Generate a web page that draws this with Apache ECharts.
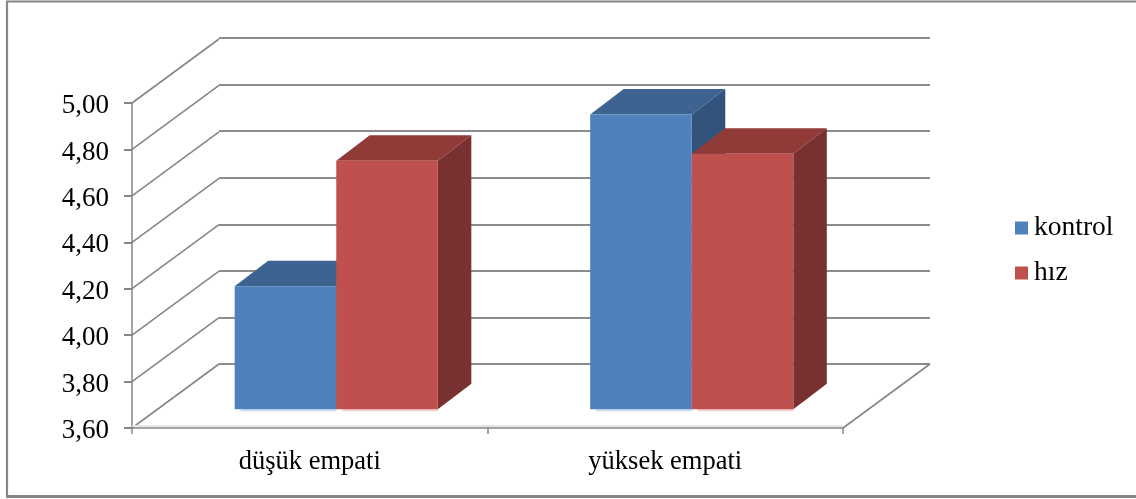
<!DOCTYPE html>
<html>
<head>
<meta charset="utf-8">
<style>
	html, body { margin: 0; padding: 0; background: #fff; }
	#chart { width: 1136px; height: 499px; }
</style>
<script src="https://cdn.jsdelivr.net/npm/echarts@6/dist/echarts.min.js"></script>
</head>
<body>
<div id="chart"></div>
<script>
	const categories = ['düşük empati', 'yüksek empati']
	const kontrolValues = [4.13, 4.87]
	const hizValues = [4.67, 4.70]
	const yTicks = [3.6, 3.8, 4.0, 4.2, 4.4, 4.6, 4.8, 5.0]

	const lineColor = '#868686'
	const fontFamily = '"Liberation Serif", serif'
	// pixel offsets of the fake 3d box
	const wallDepth = [87, -64]
	const barFloorShift = [26.5, -18.8]
	const barDepth = [33.5, -25.5]

	function renderWall(params, api) {
		const p = api.coord([0, api.value(0)])
		const x = params.coordSys.x
		const children = [{
			type: 'polyline',
			shape: { points: [[x, p[1]], [x + wallDepth[0], p[1] + wallDepth[1]]] },
			style: { stroke: lineColor, lineWidth: 1.6, fill: null }
		}]
		// floor also has a right edge and a faint front line
		if (api.value(0) === yTicks[0]) {
			const xr = x + params.coordSys.width
			children.push({
				type: 'polyline',
				shape: { points: [[xr, p[1]], [xr + wallDepth[0], p[1] + wallDepth[1]]] },
				style: { stroke: lineColor, lineWidth: 1.6, fill: null }
			})
			children.push({
				type: 'polyline',
				shape: { points: [[x, p[1] - 2], [xr, p[1] - 2]] },
				style: { stroke: '#e4e4e4', lineWidth: 2, fill: null }
			})
		}
		return { type: 'group', children: children }
	}

	function barRenderer(seriesPos, colors) {
		return function (params, api) {
			const idx = api.value(0)
			const top = api.coord([idx, api.value(1)])
			const base = api.coord([idx, yTicks[0]])
			const w = api.size([1, 0])[0] / 3.5
			const x0 = top[0] + barFloorShift[0] - w + seriesPos * w
			const x1 = x0 + w
			const yt = top[1] + barFloorShift[1]
			const yb = base[1] + barFloorShift[1]
			const dx = barDepth[0]
			const dy = barDepth[1]
			return {
				type: 'group',
				children: [{
					// soft fringe under the bar
					type: 'rect',
					shape: { x: x0 + 6, y: yb, width: w - 6, height: 2 },
					style: { fill: colors.fringe }
				}, {
					type: 'polygon',
					shape: { points: [[x0, yt], [x0 + dx, yt + dy], [x1 + dx, yt + dy], [x1, yt]] },
					style: { fill: colors.top }
				}, {
					type: 'polygon',
					shape: { points: [[x1, yt], [x1 + dx, yt + dy], [x1 + dx, yb + dy], [x1, yb]] },
					style: { fill: colors.side }
				}, {
					type: 'rect',
					shape: { x: x0, y: yt, width: w, height: yb - yt },
					style: { fill: colors.front }
				}]
			}
		}
	}

	const chart = echarts.init(document.getElementById('chart'), null, { renderer: 'canvas' })
	chart.setOption({
		animation: false,
		backgroundColor: '#fff',
		textStyle: { fontFamily: fontFamily },
		graphic: [{
			type: 'polyline',
			silent: true,
			z: -1,
			shape: { points: [[1136, 1.5], [7, 1.5], [7, 496]] },
			style: { stroke: lineColor, lineWidth: 2.2, fill: null }
		}, {
			type: 'polyline',
			silent: true,
			z: -1,
			shape: { points: [[6, 496.5], [1136, 496.5]] },
			style: { stroke: lineColor, lineWidth: 3, fill: null }
		}],
		legend: {
			data: ['kontrol', 'hız'],
			orient: 'vertical',
			left: 1010,
			top: 209,
			icon: 'rect',
			itemWidth: 13,
			itemHeight: 13,
			itemGap: 17,
			textStyle: { fontFamily: fontFamily, fontSize: 27.5, color: '#000', padding: [0, 0, 0, 1] }
		},
		grid: [
			{ left: 132, top: 103, width: 711, height: 325 },
			{ left: 219, top: 38, width: 711, height: 326 }
		],
		xAxis: [{
			type: 'category',
			gridIndex: 0,
			data: categories,
			axisLine: { lineStyle: { color: lineColor, width: 1.5 } },
			axisTick: { show: true, length: 6, lineStyle: { color: lineColor, width: 1.5 } },
			axisLabel: { color: '#000', fontSize: 26.5, fontFamily: fontFamily, margin: 21 }
		}, {
			type: 'category',
			gridIndex: 1,
			data: categories,
			axisLine: { show: false },
			axisTick: { show: false },
			axisLabel: { show: false }
		}],
		yAxis: [{
			type: 'value',
			gridIndex: 0,
			min: 3.6,
			max: 5,
			interval: 0.2,
			axisLine: { show: true, lineStyle: { color: lineColor, width: 1.5 } },
			axisTick: { show: true, length: 8, lineStyle: { color: lineColor, width: 2 } },
			splitLine: { show: false },
			axisLabel: {
				color: '#000',
				fontSize: 27,
				fontFamily: fontFamily,
				margin: 23,
				// nudges the text a little below its tick, as in the original
				verticalAlign: 'top',
				lineHeight: 6,
				formatter: function (v) {
					return v.toFixed(2).replace('.', ',')
				}
			}
		}, {
			type: 'value',
			gridIndex: 1,
			min: 3.6,
			max: 5,
			interval: 0.2,
			axisLine: { show: false },
			axisTick: { show: false },
			axisLabel: { show: false },
			splitLine: { show: true, lineStyle: { color: '#8c8c8c', width: 2 } }
		}],
		series: [{
			name: 'wall',
			type: 'custom',
			xAxisIndex: 0,
			yAxisIndex: 0,
			silent: true,
			clip: false,
			z: 1,
			data: yTicks.map(function (v) { return [v] }),
			encode: { y: 0 },
			renderItem: renderWall
		}, {
			name: 'kontrol',
			type: 'custom',
			xAxisIndex: 0,
			yAxisIndex: 0,
			clip: false,
			z: 2,
			itemStyle: { color: '#4F81BD' },
			data: kontrolValues.map(function (v, i) { return [i, v] }),
			encode: { x: 0, y: 1 },
			renderItem: barRenderer(0, { front: '#4F81BD', top: '#3D6491', side: '#32537C', fringe: '#CADAED' })
		}, {
			name: 'hız',
			type: 'custom',
			xAxisIndex: 0,
			yAxisIndex: 0,
			clip: false,
			z: 3,
			itemStyle: { color: '#C0504D' },
			data: hizValues.map(function (v, i) { return [i, v] }),
			encode: { x: 0, y: 1 },
			renderItem: barRenderer(1, { front: '#C0504D', top: '#913B39', side: '#783130', fringe: '#F2CFCE' })
		}]
	})
</script>
</body>
</html>
